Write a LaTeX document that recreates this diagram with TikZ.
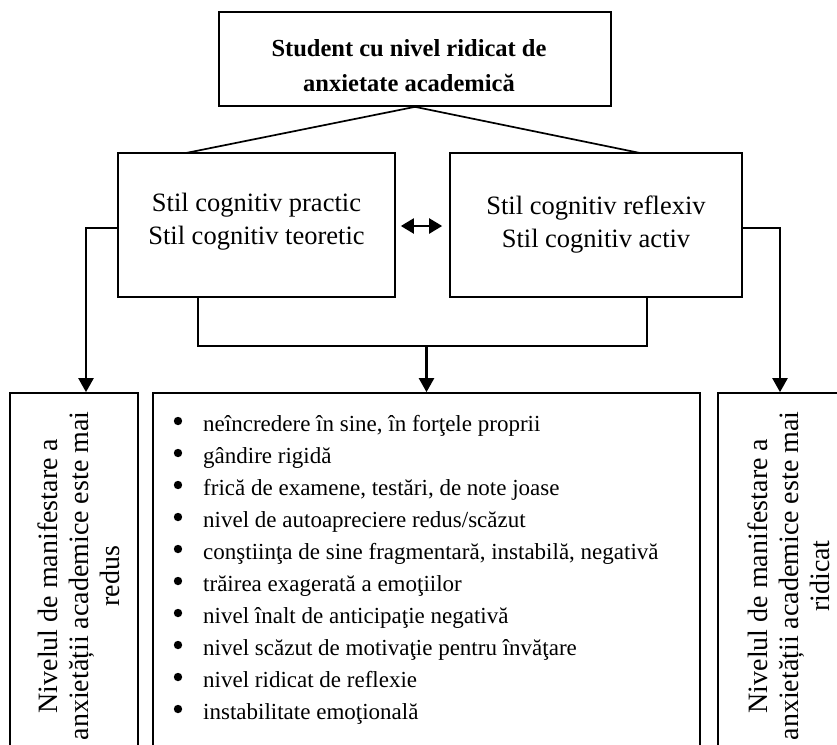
\documentclass[tikz,border=0pt]{standalone}
\usepackage{fontspec}
\setmainfont{Liberation Serif}
\usetikzlibrary{arrows.meta,positioning,calc}

\begin{document}
\begin{tikzpicture}[x=1pt,y=-1pt,
   box/.style={draw=black,line width=1.7pt,inner sep=0pt},
   con/.style={draw=black,line width=1.7pt},
   arr/.style={draw=black,line width=2.3pt,-{Triangle[width=15pt,length=14pt]}},
   stiltext/.style={align=center,font=\fontsize{26.5}{33}\selectfont},
   sidetext/.style={rotate=90,align=center,font=\fontsize{28}{31}\selectfont}]
\useasboundingbox (0,0) rectangle (837,744);
\clip (0,0) rectangle (837,744);
\path   (415,59)    node (top)    [box,minimum width=392pt,minimum height=94pt] {}
        (256.5,225) node (left)   [box,minimum width=277pt,minimum height=144pt] {}
        (596,225)   node (right)  [box,minimum width=292pt,minimum height=144pt] {}
        (74,580)    node (low)    [box,minimum width=128pt,minimum height=374pt] {}
        (426.5,580) node (mid)    [box,minimum width=547pt,minimum height=374pt] {}
        (784,580)   node (high)   [box,minimum width=132pt,minimum height=374pt] {};
% texts
\node (toptext) at ($(top)+(-6,7)$) [align=center,font=\fontsize{24.5}{35}\selectfont\bfseries]
   {Student cu nivel ridicat de\\anxietate academică};
\node (lefttext) at ($(left)+(0,-3)$) [stiltext] {Stil cognitiv practic\\Stil cognitiv teoretic};
\node (righttext) at ($(right)+(0,0)$) [stiltext] {Stil cognitiv reflexiv\\Stil cognitiv activ};
\node (lowtext) at (79,576) [sidetext] {Nivelul de manifestare a\\anxietății academice este mai\\redus};
\node (hightext) at (789,576) [sidetext] {Nivelul de manifestare a\\anxietății academice este mai\\ridicat};
\node (list) at (203,415) [anchor=north west,align=left,inner sep=0pt,font=\fontsize{23}{32}\selectfont]
   {neîncredere în sine, în forţele proprii\\
    gândire rigidă\\
    frică de examene, testări, de note joase\\
    nivel de autoapreciere redus/scăzut\\
    conştiinţa de sine fragmentară, instabilă, negativă\\
    trăirea exagerată a emoţiilor\\
    nivel înalt de anticipaţie negativă\\
    nivel scăzut de motivaţie pentru învăţare\\
    nivel ridicat de reflexie\\
    instabilitate emoţională};
% bullets
\foreach \i in {0,...,9}
   \fill (178,421+32*\i) circle (4.2pt);
% connectors
\coordinate (lj) at (186,153);
\coordinate (rj) at (640,153);
\draw [con] (lj) -- (top.south) -- (rj);
\draw [line width=2.3pt,{Triangle[width=15pt,length=13pt]}-{Triangle[width=15pt,length=13pt]}]
   ($(left.east)+(5,1)$) -- ($(right.west)+(-7,1)$);
\draw [arr] ($(left.west)+(0,3)$) -| ($(low.north)+(12,0)$);
\draw [arr] ($(right.east)+(0,3)$) -| ($(high.north)+(-4,0)$);
\coordinate (bl) at (198,346);
\coordinate (br) at (647,346);
\draw [con] (left.south -| bl) -- (bl) -- (br) -- (right.south -| br);
\draw [arr] (mid.north |- bl) -- (mid.north);
\end{tikzpicture}
\end{document}
